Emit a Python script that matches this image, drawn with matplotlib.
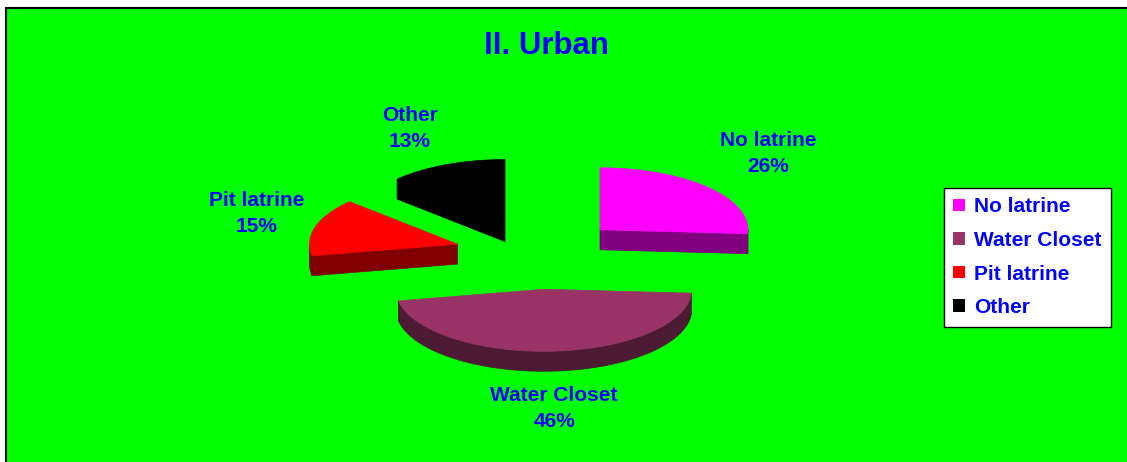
import numpy as np
import matplotlib.pyplot as plt
from matplotlib.patches import Polygon, Rectangle, Patch

plt.rcParams['font.family'] = ['Liberation Sans', 'DejaVu Sans']

# data
categories = ["No latrine", "Water Closet", "Pit latrine", "Other"]
shares = [26, 46, 15, 13]
top_colors = ["#FF00FF", "#993366", "#FF0000", "#000000"]
side_colors = ["#800080", "#4D1A33", "#800000", "#000000"]
title = "II. Urban"

# look of the 3d pie (in radius units)
k = 0.419        # vertical squash of the ellipse
depth = 0.135    # thickness of the pie
explode = 0.57
label_pos = [(1.551, 0.679), (0.105, -1.041), (-1.902, 0.274), (-0.868, 0.851)]
blue = "#0000FF"

W, H = 1127, 462
cx, cy, rpx = 538.5, 254, 148

fig = plt.figure(figsize=(W / 100, H / 100), dpi=100)
fig.patch.set_facecolor("white")
fig.patches.append(Rectangle((5.5 / W, -0.1), 1.2, (H - 8.5) / H + 0.1, transform=fig.transFigure,
                             facecolor="#00FF00", edgecolor="black", lw=1.5, zorder=-5))

ax = fig.add_axes([0, 0, 1, 1])
ax.set_xlim(-cx / rpx, (W - cx) / rpx)
ax.set_ylim(-(H - cy) / rpx, cy / rpx)
ax.axis("off")
ax.patch.set_visible(False)


def arc(a1, a2, n=80):
    t = np.radians(np.linspace(a1, a2, n))
    return np.cos(t), k * np.sin(t)


wedges = []
start = 90.0
for i, s in enumerate(shares):
    t2 = start
    t1 = start - s * 3.6
    start = t1
    mid = np.radians((t1 + t2) / 2)
    ox, oy = explode * np.cos(mid), explode * k * np.sin(mid)
    wedges.append((i, t1, t2, ox, oy))

# back to front
for i, t1, t2, ox, oy in sorted(wedges, key=lambda w: -w[4]):
    side = side_colors[i]
    # outer rim, front half only
    for base in (-360, 0, 360):
        a, b = max(t1, base + 180), min(t2, base + 360)
        if a < b:
            x, y = arc(a, b)
            pts = np.column_stack([np.r_[x, x[::-1]] + ox, np.r_[y, y[::-1] - depth] + oy])
            ax.add_patch(Polygon(pts, closed=True, facecolor=side, edgecolor=side, lw=0.5))
    # radial faces
    for ang, vis in ((t1, np.cos(np.radians(t1)) > 1e-6), (t2, np.cos(np.radians(t2)) < -1e-6)):
        if vis:
            ex, ey = np.cos(np.radians(ang)), k * np.sin(np.radians(ang))
            pts = [(ox, oy), (ox + ex, oy + ey), (ox + ex, oy + ey - depth), (ox, oy - depth)]
            ax.add_patch(Polygon(pts, closed=True, facecolor=side, edgecolor=side, lw=0.5))
    # top face
    x, y = arc(t1, t2)
    pts = np.column_stack([np.r_[0, x] + ox, np.r_[0, y] + oy])
    ax.add_patch(Polygon(pts, closed=True, facecolor=top_colors[i], edgecolor=top_colors[i], lw=0.5))

for i, name in enumerate(categories):
    lx, ly = label_pos[i]
    ax.text(lx, ly, f"{name}\n{shares[i]}%", ha="center", va="center", color=blue,
            fontsize=15, fontweight="bold", linespacing=1.47)

fig.text(547 / W, 1 - 45.5 / H, title, ha="center", va="center", color=blue,
         fontsize=22.5, fontweight="bold")

handles = [Patch(facecolor=c, edgecolor="none") for c in top_colors]
leg = fig.legend(handles, categories, loc="upper left", bbox_to_anchor=(944 / W, 1 - 188 / H),
                 fontsize=15, frameon=True, fancybox=False, borderaxespad=0, framealpha=1,
                 handlelength=0.55, handleheight=0.55, handletextpad=0.45,
                 labelspacing=0.7, borderpad=0.45)
leg.get_frame().set_edgecolor("black")
leg.get_frame().set_facecolor("white")
leg.get_frame().set_linewidth(1.0)
for t in leg.get_texts():
    t.set_color(blue)
    t.set_fontweight("bold")

fig.savefig("out.png", dpi=100, facecolor=fig.get_facecolor())
